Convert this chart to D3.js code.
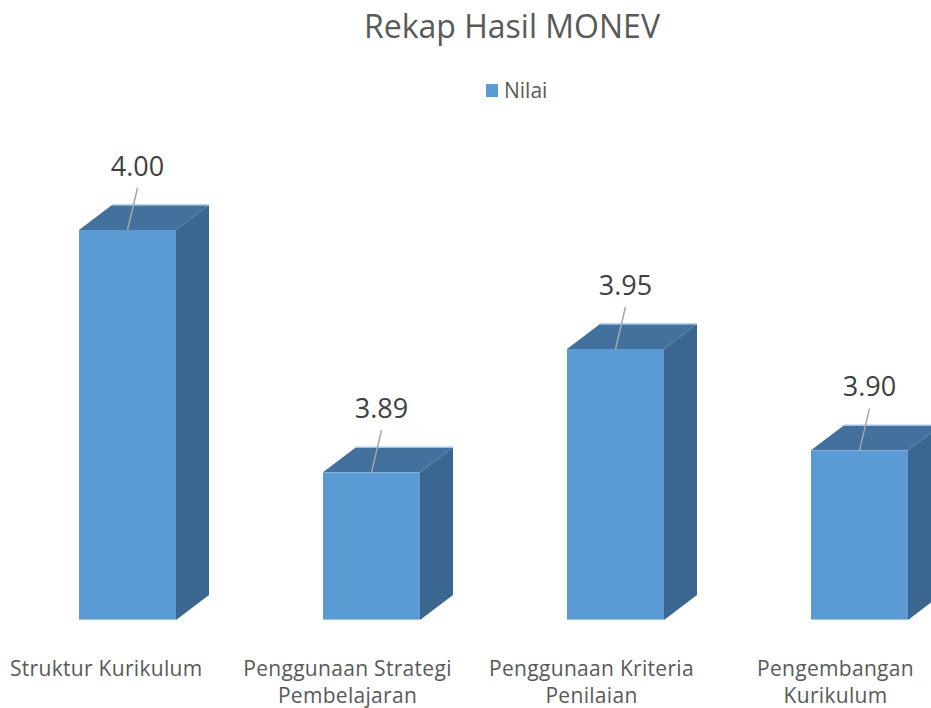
<!DOCTYPE html>
<html>
<head>
<meta charset="utf-8">
<script src="https://cdn.jsdelivr.net/npm/d3@7"></script>
<style>
  body { margin: 0; background: #fff; }
  text { font-family: "Open Sans", "DejaVu Sans", sans-serif; fill: #595959; }
</style>
</head>
<body>
<svg id="chart" width="931" height="708"></svg>
<script>
const categories = [
  ['Struktur Kurikulum'],
  ['Penggunaan Strategi', 'Pembelajaran'],
  ['Penggunaan Kriteria', 'Penilaian'],
  ['Pengembangan', 'Kurikulum']
]
const values = [4.00, 3.89, 3.946, 3.90]
const seriesName = 'Nilai'
const chartTitle = 'Rekap Hasil MONEV'

const svg = d3.select('#chart')
const base = 620
const depthX = 33
const depthY = -25

const colors = { front: '#5b9bd5', top: '#41719c', side: '#3a6690', edge: '#9dc3e6' }

const keys = categories.map((c) => c.join(' '))
const x = d3.scaleBand().domain(keys).range([79, 908]).paddingInner(0.6025).paddingOuter(0)
const y = d3.scaleLinear().domain([3.823, 4.0]).range([base, 230])
const w = x.bandwidth()

// title + legend
svg.append('text')
  .attr('x', 512).attr('y', 38)
  .attr('text-anchor', 'middle')
  .style('font-size', '32px')
  .text(chartTitle)

svg.append('rect')
  .attr('x', 486).attr('y', 84).attr('width', 12).attr('height', 13)
  .attr('fill', colors.front)
svg.append('text')
  .attr('x', 504).attr('y', 98)
  .style('font-size', '21px')
  .text(seriesName)

const data = keys.map((k, i) => ({ key: k, lines: categories[i], value: values[i] }))

const bars = svg.append('g').selectAll('g.bar')
  .data(data)
  .enter()
  .append('g')
  .attr('class', 'bar')

bars.append('path')
  .attr('fill', colors.side)
  .attr('d', (d) => {
    const x1 = x(d.key) + w
    const t = y(d.value)
    return `M${x1},${t}L${x1 + depthX},${t + depthY}L${x1 + depthX},${base + depthY}L${x1},${base}Z`
  })

bars.append('path')
  .attr('fill', colors.top)
  .attr('d', (d) => {
    const x0 = x(d.key)
    const t = y(d.value)
    return `M${x0},${t}L${x0 + depthX},${t + depthY}L${x0 + w + depthX},${t + depthY}L${x0 + w},${t}Z`
  })

bars.append('line')
  .attr('x1', (d) => x(d.key) + depthX)
  .attr('x2', (d) => x(d.key) + w + depthX)
  .attr('y1', (d) => y(d.value) + depthY)
  .attr('y2', (d) => y(d.value) + depthY)
  .attr('stroke', colors.edge)
  .attr('stroke-width', 1.5)

bars.append('rect')
  .attr('fill', colors.front)
  .attr('x', (d) => x(d.key))
  .attr('y', (d) => y(d.value))
  .attr('width', w)
  .attr('height', (d) => base - y(d.value))

bars.append('line')
  .attr('x1', (d) => x(d.key))
  .attr('x2', (d) => x(d.key) + w)
  .attr('y1', base - 0.5)
  .attr('y2', base - 0.5)
  .attr('stroke', colors.edge)
  .attr('stroke-width', 1)

// data labels with leader lines
const lblDx = 10
const lblDy = 54

bars.append('line')
  .attr('x1', (d) => x(d.key) + w / 2 + lblDx)
  .attr('y1', (d) => y(d.value) - lblDy + 12)
  .attr('x2', (d) => x(d.key) + w / 2)
  .attr('y2', (d) => y(d.value))
  .attr('stroke', '#a6a6a6')
  .attr('stroke-width', 1.5)

bars.append('text')
  .attr('x', (d) => x(d.key) + w / 2 + lblDx)
  .attr('y', (d) => y(d.value) - lblDy)
  .attr('text-anchor', 'middle')
  .style('font-size', '27px')
  .style('fill', '#404040')
  .text((d) => d3.format('.2f')(d.value))

// category labels
const labels = svg.append('g').selectAll('text.cat')
  .data(data)
  .enter()
  .append('text')
  .attr('class', 'cat')
  .attr('text-anchor', 'middle')
  .style('font-size', '21px')
  .style('letter-spacing', '0.3px')
  .attr('transform', (d) => `translate(${x(d.key) + w / 2 - 24},676)`)

labels.selectAll('tspan')
  .data((d) => d.lines)
  .enter()
  .append('tspan')
  .attr('x', 0)
  .attr('dy', (l, i) => (i === 0 ? 0 : 27))
  .text((l) => l)

// keep the first label inside the left edge
labels.each(function () {
  const b = this.getBBox()
  const m = this.getCTM()
  const left = b.x + m.e
  if (left < 10) {
    d3.select(this).attr('transform', `translate(${m.e + 10 - left},676)`)
  }
})
</script>
</body>
</html>
